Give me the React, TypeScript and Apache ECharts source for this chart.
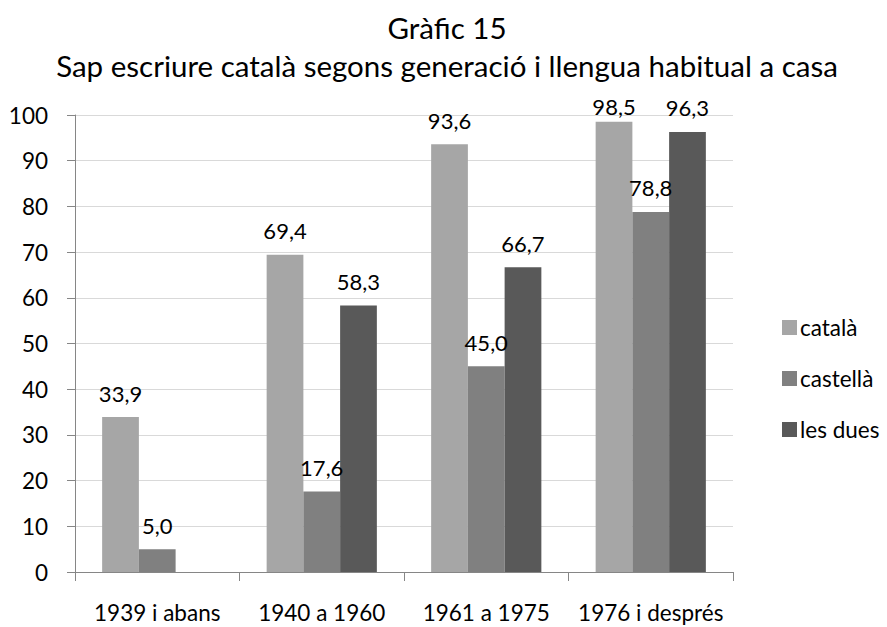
import React, { useEffect, useRef } from "react";
import * as echarts from "echarts";

const categories = ["1939 i abans", "1940 a 1960", "1961 a 1975", "1976 i després"];
const catala = [33.9, 69.4, 93.6, 98.5];
const castella = [5.0, 17.6, 45.0, 78.8];
const lesDues: (number | null)[] = [null, 58.3, 66.7, 96.3];
const seriesNames = ["català", "castellà", "les dues"];
const colors = ["#a6a6a6", "#808080", "#595959"];

const FONT = "Lato, 'Open Sans', sans-serif";

export default function App() {
  const ref = useRef<HTMLDivElement>(null);
  useEffect(() => {
    if (!ref.current) return;
    const chart = echarts.init(ref.current, undefined, { renderer: "svg" });
    const fmt = (p: any) =>
      p.value == null ? "" : Number(p.value).toFixed(1).replace(".", ",");
    const mk = (name: string, data: (number | null)[], color: string) => ({
      name,
      type: "bar",
      data: data.map((v) =>
        v === 98.5 ? { value: v, label: { distance: 4 } } : v
      ),
      itemStyle: { color },
      barGap: "0%",
      barCategoryGap: "33%",
      label: {
        show: true,
        position: "top",
        distance: 13,
        formatter: fmt,
        color: "#000",
        fontFamily: FONT,
        fontSize: 22,
      },
    });
    chart.setOption({
      animation: false,
      textStyle: { fontFamily: FONT },
      title: {
        text: "Gràfic 15\nSap escriure català segons generació i llengua habitual a casa",
        left: 442,
        textAlign: "center",
        top: 3,
        textStyle: {
          fontFamily: FONT,
          fontSize: 29.5,
          fontWeight: "normal",
          color: "#000",
          lineHeight: 38,
        },
      },
      legend: {
        orient: "vertical",
        left: 777,
        top: 311,
        itemWidth: 15,
        itemHeight: 15,
        itemGap: 28,
        icon: "rect",
        data: seriesNames,
        textStyle: { fontFamily: FONT, fontSize: 22.5, color: "#000", padding: [0, 0, 0, -2] },
      },
      grid: { left: 75, right: 154, top: 115, bottom: 55, containLabel: false },
      xAxis: {
        type: "category",
        data: categories,
        axisLine: { lineStyle: { color: "#868686", width: 1 } },
        axisTick: { show: true, length: 9, lineStyle: { color: "#868686" } },
        axisLabel: { color: "#000", fontFamily: FONT, fontSize: 22.5, margin: 29, interval: 0 },
      },
      yAxis: {
        type: "value",
        min: 0,
        max: 100,
        interval: 10,
        axisLine: { show: true, lineStyle: { color: "#868686", width: 1 } },
        axisTick: { show: true, length: 8, lineStyle: { color: "#868686" } },
        axisLabel: { color: "#000", fontFamily: FONT, fontSize: 22.5, margin: 27 },
        splitLine: { lineStyle: { color: "#d9d9d9", width: 1 } },
      },
      series: [
        mk(seriesNames[0], catala, colors[0]),
        mk(seriesNames[1], castella, colors[1]),
        mk(seriesNames[2], lesDues, colors[2]),
      ],
    });
    return () => chart.dispose();
  }, []);
  return <div ref={ref} style={{ width: 887, height: 627, position: "absolute", left: 0, top: 0 }} />;
}
